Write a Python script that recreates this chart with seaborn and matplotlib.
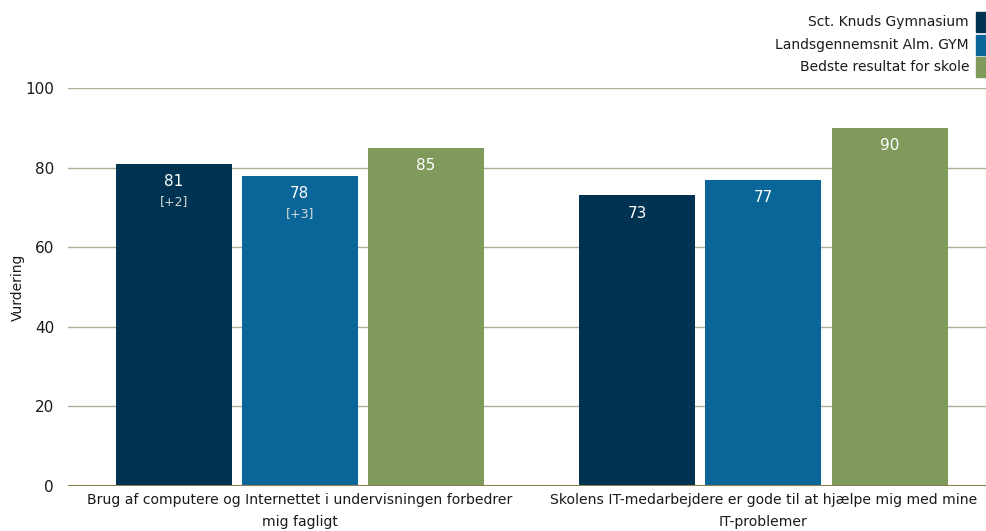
import pandas as pd
import matplotlib
matplotlib.use("Agg")
import matplotlib.pyplot as plt
from matplotlib.patches import Rectangle
import seaborn as sns

categories = ["Brug af computere og Internettet i undervisningen forbedrer\nmig fagligt",
              "Skolens IT-medarbejdere er gode til at hjælpe mig med mine\nIT-problemer"]
series = ["Sct. Knuds Gymnasium", "Landsgennemsnit Alm. GYM", "Bedste resultat for skole"]
skole = [81, 73]
lands = [78, 77]
bedste = [85, 90]
diff_skole = ["[+2]", ""]
diff_lands = ["[+3]", ""]
colors = ["#003352", "#0a6599", "#7f9a5a"]

df = pd.DataFrame({
    "kategori": categories * 3,
    "serie": [series[0]] * 2 + [series[1]] * 2 + [series[2]] * 2,
    "vaerdi": skole + lands + bedste,
})
diffs = diff_skole + diff_lands + ["", ""]

sns.set_style("white")
plt.rcParams["font.family"] = ["DejaVu Sans"]

fig = plt.figure(figsize=(9.86, 5.31), dpi=100)
ax = fig.add_axes([68 / 986, 45 / 531, 918 / 986, 398 / 531])

sns.barplot(data=df, x="kategori", y="vaerdi", hue="serie", hue_order=series,
            palette=colors, width=0.816, gap=0.08, saturation=1, legend=False,
            linewidth=0, ax=ax)

ax.set_ylim(0, 100)
ax.set_xlim(-0.5, 1.48)
ax.set_yticks([0, 20, 40, 60, 80, 100])
ax.yaxis.grid(True, color="#b3ad95", linewidth=1)
ax.set_axisbelow(True)
ax.axhline(0, color="#8c7f4f", linewidth=1.5)
for s in ax.spines.values():
    s.set_visible(False)
ax.tick_params(axis="both", length=0, colors="#1a1a1a")
ax.tick_params(axis="y", pad=10, labelsize=11)
ax.tick_params(axis="x", pad=5, labelsize=10.1)
for t in ax.get_xticklabels():
    t.set_linespacing(1.75)
ax.set_xlabel("")
ax.set_ylabel("Vurdering", fontsize=10, color="#1a1a1a")
ax.yaxis.set_label_coords(-43 / 918, 0.5)

# value labels inside bars
for patch, d in zip(ax.patches, diffs):
    h = patch.get_height()
    if h <= 0:
        continue
    xc = patch.get_x() + patch.get_width() / 2
    ax.annotate(f"{h:.0f}", (xc, h), xytext=(0, -13), textcoords="offset points",
                ha="center", va="center", color="white", fontsize=11)
    if d:
        ax.annotate(d, (xc, h), xytext=(0, -27), textcoords="offset points",
                    ha="center", va="center", color="#d8d8d8", fontsize=9)

# legend top right, text right-aligned with colour box at the edge
for i, (name, c) in enumerate(zip(series, colors)):
    ytop = 12 + i * 22.5
    fig.patches.append(Rectangle((976 / 986, 1 - (ytop + 20) / 531), 10 / 986, 20 / 531,
                                 transform=fig.transFigure, color=c, zorder=5))
    fig.text(969 / 986, 1 - (ytop + 10) / 531, name, ha="right", va="center",
             fontsize=10, color="#1a1a1a")

fig.savefig("out.png", dpi=100)
